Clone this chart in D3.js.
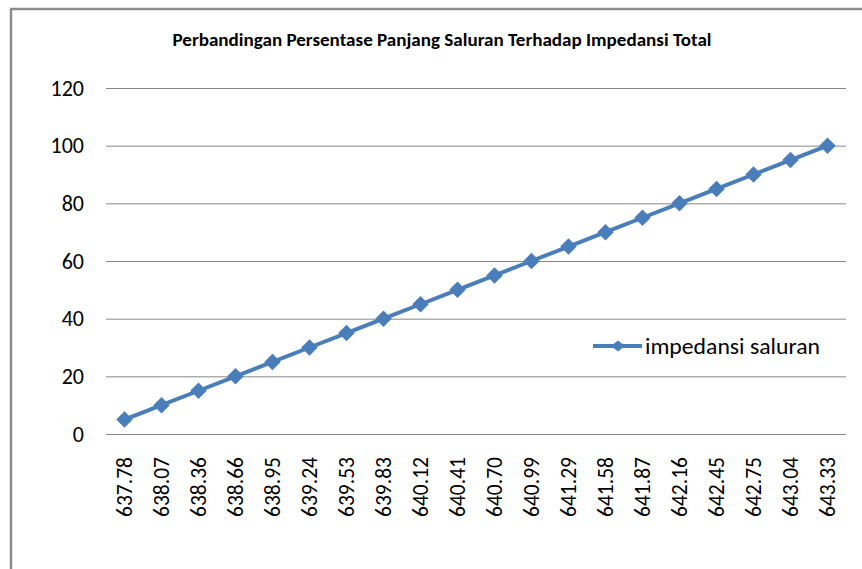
<!DOCTYPE html>
<html><head><meta charset="utf-8">
<script src="https://cdn.jsdelivr.net/npm/d3@7"></script>
<style>body{margin:0;background:#fff}svg{display:block}</style>
</head><body>
<svg id="c" width="862" height="569"></svg>
<script>
const categories = ["637.78","638.07","638.36","638.66","638.95","639.24","639.53","639.83","640.12","640.41","640.70","640.99","641.29","641.58","641.87","642.16","642.45","642.75","643.04","643.33"];
const values = [5,10,15,20,25,30,35,40,45,50,55,60,65,70,75,80,85,90,95,100];
const yTicks = [0,20,40,60,80,100,120];
const seriesName = "impedansi saluran";
const title = "Perbandingan Persentase Panjang Saluran Terhadap Impedansi Total";

const svg = d3.select("#c");
const font = "Carlito, Calibri, Lato, sans-serif";
const color = "#4A7EBB";

// frame
svg.append("line").attr("x1",11).attr("x2",11).attr("y1",9).attr("y2",569).attr("stroke","#8c8c8c").attr("stroke-width",2.5);
svg.append("line").attr("x1",10).attr("x2",862).attr("y1",9).attr("y2",9).attr("stroke","#8c8c8c").attr("stroke-width",2.5);

const m = {l:106, r:846, t:88, b:434};
const x = d3.scaleBand().domain(categories).range([m.l, m.r]);
const y = d3.scaleLinear().domain([0,120]).range([m.b, m.t]);

svg.append("text").attr("x",442).attr("y",46).attr("text-anchor","middle")
  .attr("font-family",font).attr("font-weight","bold").attr("font-size",18).attr("fill","#000")
  .attr("textLength",539).attr("lengthAdjust","spacingAndGlyphs")
  .text(title);

// gridlines
const yAxis = d3.axisLeft(y).tickValues(yTicks).tickSize(-(m.r-m.l)).tickPadding(22).tickFormat(d3.format("d"));
const gy = svg.append("g").attr("transform",`translate(${m.l},0)`).call(yAxis);
gy.select(".domain").remove();
gy.selectAll(".tick line").attr("stroke","#878787").attr("stroke-width",1);
gy.selectAll(".tick text").attr("font-family",font).attr("font-size",22).attr("fill","#000");

// x axis
const xAxis = d3.axisBottom(x).tickSize(0).tickPadding(0);
const gx = svg.append("g").attr("transform",`translate(0,${m.b})`).call(xAxis);
gx.select(".domain").remove();
gx.selectAll(".tick text")
  .attr("font-family",font).attr("font-size",21.5).attr("fill","#000")
  .attr("text-anchor","end").attr("dy","0.35em")
  .attr("transform","translate(0,23) rotate(-90)").attr("y",0).attr("x",0);

// line
const cx = (i)=>x(categories[i])+x.bandwidth()/2;
const line = d3.line().x((d,i)=>cx(i)).y(d=>y(d));
svg.append("path").datum(values).attr("d",line).attr("fill","none").attr("stroke",color).attr("stroke-width",4).attr("stroke-linejoin","round");
const sq = d3.symbol().type(d3.symbolSquare).size(136);
svg.selectAll("path.pt").data(values).enter().append("path").attr("class","pt")
  .attr("d",sq)
  .attr("transform",(d,i)=>`translate(${cx(i)},${y(d)}) rotate(45)`)
  .attr("fill",color);

// legend
const ly = 346;
svg.append("line").attr("x1",593).attr("x2",642).attr("y1",ly).attr("y2",ly).attr("stroke",color).attr("stroke-width",4);
svg.append("path").attr("d","M-7,0L0,-5.5L7,0L0,5.5Z").attr("transform",`translate(618,${ly})`).attr("fill",color);
svg.append("text").attr("x",645).attr("y",ly).attr("dy","0.35em").attr("font-family",font).attr("font-size",22).attr("fill","#000")
  .attr("textLength",175).attr("lengthAdjust","spacingAndGlyphs").text(seriesName);
</script>
</body></html>
